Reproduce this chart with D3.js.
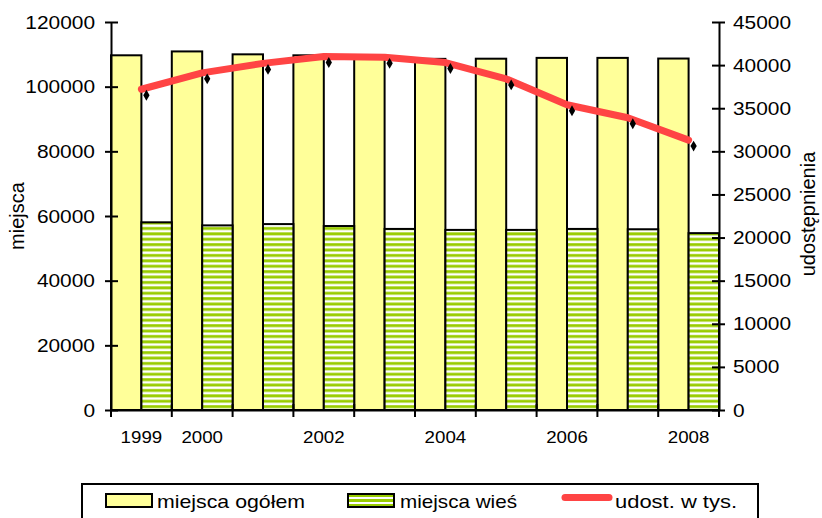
<!DOCTYPE html>
<html><head><meta charset="utf-8">
<script src="https://cdn.jsdelivr.net/npm/d3@7"></script>
<style>
body{margin:0;background:#fff}
svg text{font-family:"Liberation Sans",Arial,sans-serif;fill:#000}
</style>
</head><body>
<svg id="c" width="822" height="518"></svg>
<script>
const years = ["1999","2000","2001","2002","2003","2004","2005","2006","2007","2008"];
const xLabels = ["1999","2000","","2002","","2004","","2006","","2008"];
const totalPlaces = [109700,110900,110000,109700,109500,108600,108650,108900,108900,108700];
const ruralPlaces = [58050,57100,57500,56900,56000,55700,55700,56000,55900,54700];
const loans = [37200,39100,40200,41000,40900,40300,38400,35400,33900,31300];
const leftTicks = [0,20000,40000,60000,80000,100000,120000];
const rightTicks = [0,5000,10000,15000,20000,25000,30000,35000,40000,45000];
const legendItems = ["miejsca ogółem","miejsca wieś","udost. w  tys."];

const svg = d3.select("#c");
const L = 111, R = 719, T = 22, B = 410;
const x = d3.scaleBand().domain(years).range([L, R]).padding(0);
const bw = x.bandwidth();
const yL = d3.scaleLinear().domain([0, 120000]).range([B, T]);
const yR = d3.scaleLinear().domain([0, 45000]).range([B, T]);

function stretch(sel, k){
  sel.each(function(){
    const len = this.getComputedTextLength();
    if (len > 0) d3.select(this).attr("textLength", len * k).attr("lengthAdjust","spacingAndGlyphs");
  });
}

const defs = svg.append("defs");
const pat = defs.append("pattern").attr("id","stripes").attr("patternUnits","userSpaceOnUse")
  .attr("width",10).attr("height",5.4);
pat.append("rect").attr("width",10).attr("height",5.4).attr("fill","#ffffff");
pat.append("rect").attr("y",0.2).attr("width",10).attr("height",2.9).attr("fill","#99cc00");
const pat2 = defs.append("pattern").attr("id","stripesLeg").attr("patternUnits","userSpaceOnUse")
  .attr("width",10).attr("height",5).attr("y",494);
pat2.append("rect").attr("width",10).attr("height",5).attr("fill","#ffffff");
pat2.append("rect").attr("y",0).attr("width",10).attr("height",3).attr("fill","#99cc00");

// bars
svg.append("g").selectAll("rect").data(years).join("rect")
  .attr("x", d => x(d)).attr("width", bw/2)
  .attr("y", (d,i) => yL(totalPlaces[i])).attr("height", (d,i) => B - yL(totalPlaces[i]))
  .attr("fill","#ffff99").attr("stroke","#000").attr("stroke-width",2);
svg.append("g").selectAll("rect").data(years).join("rect")
  .attr("x", d => x(d) + bw/2).attr("width", bw/2)
  .attr("y", (d,i) => yL(ruralPlaces[i])).attr("height", (d,i) => B - yL(ruralPlaces[i]))
  .attr("fill","url(#stripes)").attr("stroke","#000").attr("stroke-width",2);

// axes
function styleAxis(g, fs){
  g.selectAll("path.domain").attr("stroke","#000").attr("stroke-width",2);
  g.selectAll(".tick line").attr("stroke","#000").attr("stroke-width",2);
  g.selectAll("text").attr("font-size",fs).attr("font-family",null);
}
const gL = svg.append("g").attr("transform",`translate(${L},0)`)
  .call(d3.axisLeft(yL).tickValues(leftTicks).tickFormat(d3.format("d")).tickSizeInner(6).tickSizeOuter(0).tickPadding(10));
styleAxis(gL, 19); gL.selectAll(".tick line").attr("x1",7);
stretch(gL.selectAll("text"), 1.1);
const gR = svg.append("g").attr("transform",`translate(${R},0)`)
  .call(d3.axisRight(yR).tickValues(rightTicks).tickFormat(d3.format("d")).tickSizeInner(6).tickSizeOuter(0).tickPadding(8));
styleAxis(gR, 19); gR.selectAll(".tick line").attr("x1",-7);
stretch(gR.selectAll("text"), 1.1);

const gB = svg.append("g").attr("transform",`translate(0,${B})`)
  .call(d3.axisBottom(x).tickFormat((d,i) => xLabels[i]).tickSize(0).tickSizeOuter(0));
styleAxis(gB, 17);
gB.selectAll("text").attr("y",33).attr("dy",0);
stretch(gB.selectAll("text"), 1.1);
const bounds = years.map(d => x(d)).concat([x(years[years.length-1]) + bw]);
gB.append("g").selectAll("line").data(bounds).join("line")
  .attr("x1", d => d).attr("x2", d => d).attr("y1",-6).attr("y2",7)
  .attr("stroke","#000").attr("stroke-width",2);

// line
const lineGen = d3.line().x((d,i) => x(years[i]) + bw/2).y(d => yR(d));
svg.append("path").datum(loans).attr("d", lineGen)
  .attr("fill","none").attr("stroke","#ff4444").attr("stroke-width",7)
  .attr("stroke-linecap","round").attr("stroke-linejoin","round");
svg.append("g").selectAll("path").data(loans).join("path")
  .attr("transform",(d,i) => `translate(${x(years[i]) + bw/2 + 5},${yR(d) + 6})`)
  .attr("d", d3.symbol(d3.symbolDiamond, 34)).attr("fill","#000");

// axis titles
svg.append("text").attr("transform","translate(24,216) rotate(-90)").attr("text-anchor","middle")
  .attr("font-size",20).text("miejsca");
svg.append("text").attr("transform","translate(815,214) rotate(-90)").attr("text-anchor","middle")
  .attr("font-size",20).text("udostępnienia");

// legend
const lg = svg.append("g");
lg.append("rect").attr("x",82).attr("y",484).attr("width",676).attr("height",60)
  .attr("fill","#fff").attr("stroke","#000").attr("stroke-width",2);
lg.append("rect").attr("x",106).attr("y",494).attr("width",46).attr("height",13)
  .attr("fill","#ffff99").attr("stroke","#000").attr("stroke-width",2);
lg.append("rect").attr("x",348).attr("y",494).attr("width",46).attr("height",13)
  .attr("fill","url(#stripesLeg)").attr("stroke","#000").attr("stroke-width",2);
lg.append("line").attr("x1",565).attr("x2",609).attr("y1",497.5).attr("y2",497.5)
  .attr("stroke","#ff4444").attr("stroke-width",7).attr("stroke-linecap","round");
const legX = [157, 400, 615];
const legW = [148, 117, 122];
lg.selectAll("text.leg").data(legendItems).join("text").attr("class","leg")
  .attr("x",(d,i) => legX[i]).attr("y",508).attr("font-size",19)
  .attr("textLength",(d,i) => legW[i]).attr("lengthAdjust","spacingAndGlyphs").text(d => d);
</script>
</body></html>
